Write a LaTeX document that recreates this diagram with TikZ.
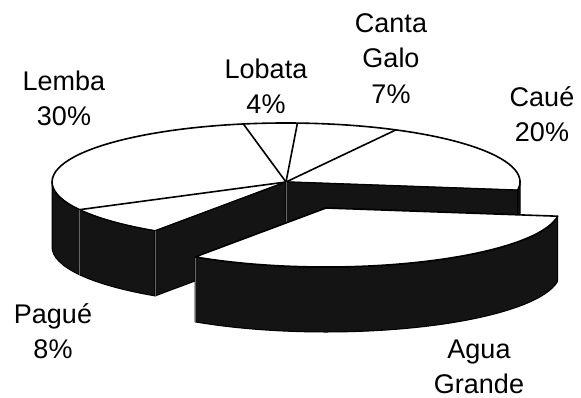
\documentclass[tikz,border=0pt]{standalone}
\usepackage{fontspec}
\setmainfont{Liberation Sans}
\newcommand{\firstline}{\rule{0pt}{21pt}}
\begin{document}
\begin{tikzpicture}[x=1pt,y=1pt,
  topface/.style={fill=white,draw=black,line width=1.6pt,line join=round},
  wallface/.style={fill=black!92,draw=black,line width=1pt,line join=round},
  radial/.style={draw=black,line width=1.6pt},
  faintedge/.style={draw=black!60,line width=0.7pt},
  lbl/.style={font=\fontsize{27}{35.5}\selectfont,align=center,anchor=north,inner sep=0pt}]
\useasboundingbox (0,0) rectangle (581,-398);
\def\rx{234}
\def\ry{59}
\def\dp{65}
% main pie (without Agua Grande)
\begin{scope}[shift={(286,-182)}]
  \coordinate (O) at (0,0);
  \coordinate (Ob) at (0,-\dp);
  \coordinate (A) at (100.5:\rx\space and \ry);
  \coordinate (B) at (87.2:\rx\space and \ry);
  \coordinate (Cg) at (62:\rx\space and \ry);
  \coordinate (D) at (-8:\rx\space and \ry);
  \coordinate (E) at (-124:\rx\space and \ry);
  \coordinate (F) at (-152:\rx\space and \ry);
  \coordinate (L) at (180:\rx\space and \ry);
  \coordinate (R) at (0:\rx\space and \ry);
  % top surface
  \path[topface] (O) -- (D) arc[start angle=-8, end angle=236, x radius=\rx, y radius=\ry] -- cycle;
  \draw[radial] (O) -- (A);
  \draw[radial] (O) -- (B);
  \draw[radial] (O) -- (Cg);
  \draw[radial] (O) -- (F);
  % outer walls of Lemba and Pague
  \path[wallface] (L) arc[start angle=180, end angle=236, x radius=\rx, y radius=\ry]
     -- ++(0,-\dp) arc[start angle=236, end angle=180, x radius=\rx, y radius=\ry] -- cycle;
  % small outer wall of Caue
  \path[wallface] (R) arc[start angle=0, end angle=-8, x radius=\rx, y radius=\ry]
     -- ++(0,-\dp) arc[start angle=-8, end angle=0, x radius=\rx, y radius=\ry] -- cycle;
  % cut faces
  \path[wallface] (O) -- (E) -- ++(0,-\dp) -- (Ob) -- cycle;
  \path[wallface] (O) -- (D) -- ++(0,-\dp) -- (Ob) -- cycle;
  \draw[faintedge] (F) -- ++(0,-\dp);
  \draw[faintedge] (E) -- ++(0,-\dp);
  \draw[faintedge] (O) -- (Ob);
\end{scope}
% exploded Agua Grande slice
\begin{scope}[shift={(326,-208)}]
  \coordinate (O2) at (0,0);
  \coordinate (D2) at (-8:\rx\space and \ry);
  \coordinate (E2) at (-124:\rx\space and \ry);
  \path[wallface] (D2) arc[start angle=-8, end angle=-124, x radius=\rx, y radius=\ry]
     -- ++(0,-\dp) arc[start angle=-124, end angle=-8, x radius=\rx, y radius=\ry] -- cycle;
  \draw[faintedge] (E2) -- ++(0,-\dp);
  \path[topface] (O2) -- (D2) arc[start angle=-8, end angle=-124, x radius=\rx, y radius=\ry] -- cycle;
\end{scope}
% labels
\node[lbl] (lemba) at (64,-69) {\firstline Lemba\\30\%};
\node[lbl] (lobata) at (266,-57) {\firstline Lobata\\4\%};
\node[lbl] (canta) at (391,-11) {\firstline Canta\\Galo\\7\%};
\node[lbl] (caue) at (542,-85) {\firstline Caué\\20\%};
\node[lbl] (pague) at (53,-302) {\firstline Pagué\\8\%};
\node[lbl] (agua) at (479,-337) {\firstline Agua\\Grande};
\end{tikzpicture}
\end{document}
